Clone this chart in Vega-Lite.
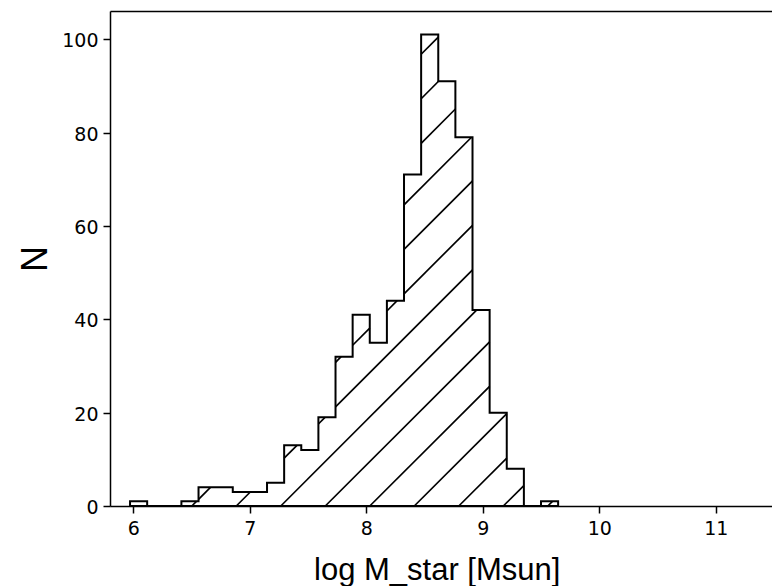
{
  "$schema": "https://vega.github.io/schema/vega-lite/v6.json",
  "width": 662,
  "height": 495,
  "autosize": "none",
  "padding": {"left": 110, "top": 11, "right": 0, "bottom": 80},
  "background": "white",
  "config": {
    "view": {"stroke": null},
    "axis": {
      "grid": false,
      "domainColor": "black",
      "domainWidth": 1.5,
      "tickColor": "black",
      "tickWidth": 1.5,
      "tickSize": 7,
      "labelFont": "DejaVu Sans",
      "labelFontSize": 19,
      "labelColor": "black",
      "titleFont": "Liberation Sans",
      "titleFontWeight": "normal",
      "titleColor": "black"
    },
    "axisX": {
      "labelBaseline": "alphabetic",
      "labelPadding": 21,
      "titleFontSize": 31,
      "titleBaseline": "alphabetic",
      "titleAlign": "center",
      "titleX": 326.7,
      "titleY": 73.3
    },
    "axisY": {
      "labelBaseline": "alphabetic",
      "labelOffset": 7.5,
      "labelPadding": 5,
      "titleFontSize": 36,
      "titleBaseline": "alphabetic",
      "titleAlign": "center",
      "titleX": -64,
      "titleY": 247.5
    }
  },
  "datasets": {
    "bins": [
      {"lo": 5.972, "hi": 6.119, "n": 1},
      {"lo": 6.119, "hi": 6.266, "n": 0},
      {"lo": 6.266, "hi": 6.413, "n": 0},
      {"lo": 6.413, "hi": 6.560, "n": 1},
      {"lo": 6.560, "hi": 6.707, "n": 4},
      {"lo": 6.707, "hi": 6.854, "n": 4},
      {"lo": 6.854, "hi": 7.001, "n": 3},
      {"lo": 7.001, "hi": 7.148, "n": 3},
      {"lo": 7.148, "hi": 7.295, "n": 5},
      {"lo": 7.295, "hi": 7.442, "n": 13},
      {"lo": 7.442, "hi": 7.589, "n": 12},
      {"lo": 7.589, "hi": 7.736, "n": 19},
      {"lo": 7.736, "hi": 7.883, "n": 32},
      {"lo": 7.883, "hi": 8.030, "n": 41},
      {"lo": 8.030, "hi": 8.177, "n": 35},
      {"lo": 8.177, "hi": 8.324, "n": 44},
      {"lo": 8.324, "hi": 8.471, "n": 71},
      {"lo": 8.471, "hi": 8.618, "n": 101},
      {"lo": 8.618, "hi": 8.765, "n": 91},
      {"lo": 8.765, "hi": 8.912, "n": 79},
      {"lo": 8.912, "hi": 9.059, "n": 42},
      {"lo": 9.059, "hi": 9.206, "n": 20},
      {"lo": 9.206, "hi": 9.353, "n": 8},
      {"lo": 9.353, "hi": 9.500, "n": 0},
      {"lo": 9.500, "hi": 9.647, "n": 1}
    ],
    "hatch": [
      {"x1": 8.471, "y1": 96.78, "x2": 8.618, "y2": 100.45},
      {"x1": 8.471, "y1": 87.25, "x2": 8.6204, "y2": 91},
      {"x1": 8.471, "y1": 77.71, "x2": 8.765, "y2": 85.05},
      {"x1": 8.324, "y1": 64.51, "x2": 8.9036, "y2": 79},
      {"x1": 8.324, "y1": 54.98, "x2": 8.912, "y2": 69.65},
      {"x1": 6.5022, "y1": 0, "x2": 6.5423, "y2": 1},
      {"x1": 6.560, "y1": 1.431, "x2": 6.6625, "y2": 4},
      {"x1": 7.736, "y1": 30.77, "x2": 7.7844, "y2": 32},
      {"x1": 7.883, "y1": 34.44, "x2": 8.030, "y2": 38.11},
      {"x1": 8.177, "y1": 41.78, "x2": 8.2652, "y2": 44},
      {"x1": 8.324, "y1": 45.45, "x2": 8.912, "y2": 60.12},
      {"x1": 6.8842, "y1": 0, "x2": 7.0044, "y2": 3},
      {"x1": 7.295, "y1": 10.24, "x2": 7.4051, "y2": 13},
      {"x1": 7.589, "y1": 17.57, "x2": 7.6455, "y2": 19},
      {"x1": 7.736, "y1": 21.24, "x2": 8.912, "y2": 50.58},
      {"x1": 7.2662, "y1": 0, "x2": 8.9491, "y2": 42},
      {"x1": 7.6482, "y1": 0, "x2": 9.059, "y2": 35.18},
      {"x1": 8.0302, "y1": 0, "x2": 9.059, "y2": 25.65},
      {"x1": 8.4122, "y1": 0, "x2": 9.206, "y2": 19.78},
      {"x1": 8.7943, "y1": 0, "x2": 9.206, "y2": 10.25},
      {"x1": 9.1763, "y1": 0, "x2": 9.353, "y2": 4.38},
      {"x1": 9.5583, "y1": 0, "x2": 9.5984, "y2": 1}
    ]
  },
  "layer": [
    {
      "data": {"name": "hatch"},
      "mark": {"type": "rule", "color": "black", "strokeWidth": 1.7},
      "encoding": {
        "x": {
          "field": "x1",
          "type": "quantitative",
          "scale": {"domain": [5.8, 11.483], "nice": false, "zero": false},
          "axis": {"orient": "top", "labels": false, "ticks": false, "title": null}
        },
        "x2": {"field": "x2"},
        "y": {
          "field": "y1",
          "type": "quantitative",
          "title": "N",
          "scale": {"domain": [0, 106.05], "nice": false},
          "axis": {"values": [0, 20, 40, 60, 80, 100], "format": "d"}
        },
        "y2": {"field": "y2"}
      }
    },
    {
      "data": {"name": "bins"},
      "transform": [{"fold": ["lo", "hi"]}],
      "mark": {"type": "area", "fillOpacity": 0, "stroke": "black", "strokeWidth": 2, "strokeJoin": "miter"},
      "encoding": {
        "x": {
          "field": "value",
          "type": "quantitative",
          "title": "log M_star [Msun]",
          "scale": {"domain": [5.8, 11.483], "nice": false, "zero": false},
          "axis": {"orient": "bottom", "values": [6, 7, 8, 9, 10, 11], "format": "d"}
        },
        "y": {
          "field": "n",
          "type": "quantitative",
          "stack": null,
          "title": "N",
          "scale": {"domain": [0, 106.05], "nice": false}
        },
        "order": [
          {"field": "value", "type": "quantitative"},
          {"field": "key", "type": "ordinal"}
        ]
      }
    }
  ],
  "resolve": {"axis": {"x": "independent"}}
}
